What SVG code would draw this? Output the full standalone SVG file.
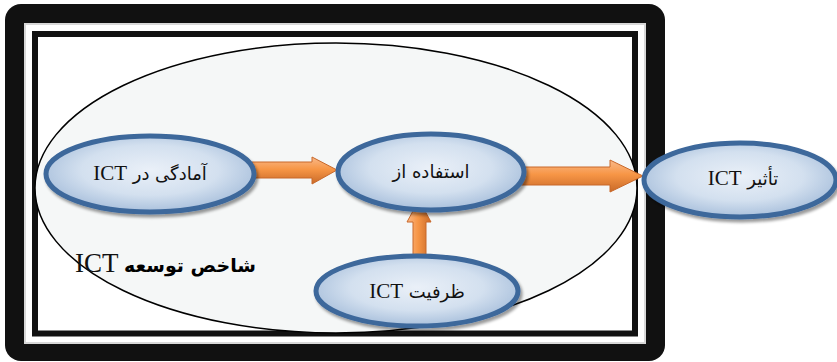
<svg xmlns="http://www.w3.org/2000/svg" width="837" height="362" viewBox="0 0 837 362">
<style>
.node{fill:url(#nodeFill);stroke:#3c679b;stroke-width:5;filter:url(#shadow)}
.lbl{font-family:"DejaVu Sans",sans-serif;font-size:18px;fill:#111;text-anchor:middle;direction:rtl;unicode-bidi:embed}
.lat{font-family:"Liberation Serif",serif;font-size:21px}
.arrowH{fill:url(#arrowFillH);stroke:#c8682a;stroke-width:1}
.arrowV{fill:url(#arrowFillV);stroke:#c8682a;stroke-width:1}
</style>
<defs>
<radialGradient id="nodeFill" cx="50%" cy="45%" r="55%">
<stop offset="0" stop-color="#eaf0f8"/>
<stop offset="0.6" stop-color="#d3e0ef"/>
<stop offset="1" stop-color="#a9c0dc"/>
</radialGradient>
<linearGradient id="arrowFillH" x1="0" y1="0" x2="0" y2="1">
<stop offset="0" stop-color="#f9b98a"/>
<stop offset="0.45" stop-color="#f79646"/>
<stop offset="1" stop-color="#c96a28"/>
</linearGradient>
<linearGradient id="arrowFillV" x1="0" y1="0" x2="1" y2="0">
<stop offset="0" stop-color="#f9b98a"/>
<stop offset="0.45" stop-color="#f79646"/>
<stop offset="1" stop-color="#c96a28"/>
</linearGradient>
<filter id="shadow" x="-10%" y="-10%" width="125%" height="135%">
<feGaussianBlur in="SourceAlpha" stdDeviation="1.5"/>
<feOffset dx="2" dy="3" result="b"/>
<feComponentTransfer><feFuncA type="linear" slope="0.4"/></feComponentTransfer>
<feMerge><feMergeNode/><feMergeNode in="SourceGraphic"/></feMerge>
</filter>
</defs>
<rect width="837" height="362" fill="#ffffff"/>
<g id="frame">
<rect x="5" y="4" width="660" height="357" rx="16" fill="#111111"/>
<rect x="25" y="24" width="620" height="319" fill="#ffffff" stroke="#d8d8d8" stroke-width="2"/>
<rect x="35" y="34" width="600" height="299.5" fill="#ffffff" stroke="#111111" stroke-width="6"/>
</g>
<g id="ict-index">
<ellipse cx="336" cy="188" rx="301" ry="145" fill="#f5f7f7" stroke="#000" stroke-width="1.5"/>
<text x="75" y="272" font-family="Liberation Serif, serif" font-size="27" fill="#111">ICT</text>
<text x="190" y="272" font-family="DejaVu Sans, sans-serif" font-size="19" font-weight="bold" fill="#000" text-anchor="middle">شاخص توسعه</text>
</g>
<g id="connectors">
<polygon class="arrowH" points="252,162 312,162 312,157 337,170 312,184 312,178 252,178"/>
<polygon class="arrowH" points="520,167 610,167 610,160 643,176 610,192 610,185 520,185"/>
<polygon class="arrowV" points="413,262 413,222 407,222 419,200 431,222 426,222 426,262"/>
</g>
<g id="node-readiness">
<ellipse class="node" cx="150" cy="174" rx="104" ry="38"/>
<text class="lbl" x="150" y="180">آمادگی در <tspan class="lat">ICT</tspan></text>
</g>
<g id="node-use">
<ellipse class="node" cx="431" cy="172" rx="93" ry="38"/>
<text class="lbl" x="431" y="178">استفاده از</text>
</g>
<g id="node-impact">
<ellipse class="node" cx="740" cy="180" rx="96" ry="37"/>
<text class="lbl" x="743" y="185">تأثیر <tspan class="lat">ICT</tspan></text>
</g>
<g id="node-capacity">
<ellipse class="node" cx="417" cy="291" rx="101" ry="35"/>
<text class="lbl" x="417" y="298">ظرفیت <tspan class="lat">ICT</tspan></text>
</g>
</svg>
